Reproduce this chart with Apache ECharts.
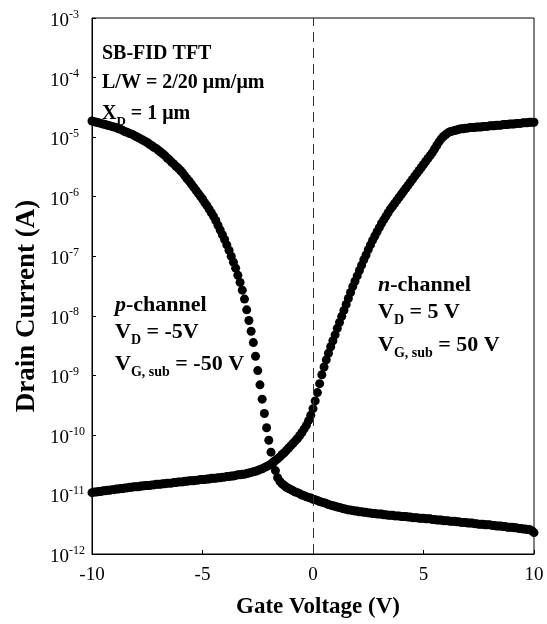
<!DOCTYPE html>
<html>
<head>
<meta charset="utf-8">
<title>SB-FID TFT transfer curves</title>
<script src="https://cdn.jsdelivr.net/npm/echarts@6.0.0/dist/echarts.min.js"></script>
<style>
  html, body { margin: 0; padding: 0; background: #fff; }
  #transferChart { width: 547px; height: 624px; }
</style>
</head>
<body>
<div id="transferChart"></div>
<script>
// gate voltage sweep (V)
var gateVoltage = [
  -10.0, -9.9, -9.8, -9.7, -9.6, -9.5, -9.4, -9.3, -9.2, -9.1,
  -9.0, -8.9, -8.8, -8.7, -8.6, -8.5, -8.4, -8.3, -8.2, -8.1,
  -8.0, -7.9, -7.8, -7.7, -7.6, -7.5, -7.4, -7.3, -7.2, -7.1,
  -7.0, -6.9, -6.8, -6.7, -6.6, -6.5, -6.4, -6.3, -6.2, -6.1,
  -6.0, -5.9, -5.8, -5.7, -5.6, -5.5, -5.4, -5.3, -5.2, -5.1,
  -5.0, -4.9, -4.8, -4.7, -4.6, -4.5, -4.4, -4.3, -4.2, -4.1,
  -4.0, -3.9, -3.8, -3.7, -3.6, -3.5, -3.4, -3.3, -3.2, -3.1,
  -3.0, -2.9, -2.8, -2.7, -2.6, -2.5, -2.4, -2.3, -2.2, -2.1,
  -2.0, -1.9, -1.8, -1.7, -1.6, -1.5, -1.4, -1.3, -1.2, -1.1,
  -1.0, -0.9, -0.8, -0.7, -0.6, -0.5, -0.4, -0.3, -0.2, -0.1,
  0.0, 0.1, 0.2, 0.3, 0.4, 0.5, 0.6, 0.7, 0.8, 0.9,
  1.0, 1.1, 1.2, 1.3, 1.4, 1.5, 1.6, 1.7, 1.8, 1.9,
  2.0, 2.1, 2.2, 2.3, 2.4, 2.5, 2.6, 2.7, 2.8, 2.9,
  3.0, 3.1, 3.2, 3.3, 3.4, 3.5, 3.6, 3.7, 3.8, 3.9,
  4.0, 4.1, 4.2, 4.3, 4.4, 4.5, 4.6, 4.7, 4.8, 4.9,
  5.0, 5.1, 5.2, 5.3, 5.4, 5.5, 5.6, 5.7, 5.8, 5.9,
  6.0, 6.1, 6.2, 6.3, 6.4, 6.5, 6.6, 6.7, 6.8, 6.9,
  7.0, 7.1, 7.2, 7.3, 7.4, 7.5, 7.6, 7.7, 7.8, 7.9,
  8.0, 8.1, 8.2, 8.3, 8.4, 8.5, 8.6, 8.7, 8.8, 8.9,
  9.0, 9.1, 9.2, 9.3, 9.4, 9.5, 9.6, 9.7, 9.8, 9.9,
  10.0
]

// log10 of drain current (A), p-channel, VD = -5 V
var pChannelLogI = [
  -4.73, -4.74, -4.75, -4.76, -4.77, -4.78, -4.79, -4.80, -4.81, -4.82,
  -4.83, -4.84, -4.86, -4.87, -4.89, -4.91, -4.92, -4.94, -4.95, -4.97,
  -4.99, -5.01, -5.03, -5.05, -5.07, -5.09, -5.12, -5.14, -5.17, -5.19,
  -5.22, -5.25, -5.28, -5.31, -5.35, -5.38, -5.42, -5.45, -5.49, -5.52,
  -5.56, -5.60, -5.65, -5.70, -5.74, -5.79, -5.84, -5.89, -5.94, -5.99,
  -6.04, -6.10, -6.15, -6.21, -6.27, -6.33, -6.40, -6.48, -6.56, -6.64,
  -6.72, -6.81, -6.90, -7.00, -7.10, -7.20, -7.32, -7.44, -7.57, -7.72,
  -7.90, -8.08, -8.26, -8.45, -8.68, -8.92, -9.16, -9.40, -9.64, -9.88,
  -10.09, -10.29, -10.46, -10.60, -10.72, -10.78, -10.82, -10.85, -10.88, -10.90,
  -10.92, -10.94, -10.96, -10.97, -10.99, -11.01, -11.02, -11.04, -11.05, -11.06,
  -11.08, -11.09, -11.10, -11.12, -11.13, -11.14, -11.15, -11.17, -11.18, -11.19,
  -11.20, -11.21, -11.22, -11.23, -11.24, -11.25, -11.26, -11.26, -11.27, -11.28,
  -11.28, -11.29, -11.29, -11.30, -11.30, -11.31, -11.31, -11.32, -11.32, -11.33,
  -11.33, -11.33, -11.34, -11.34, -11.35, -11.35, -11.35, -11.36, -11.36, -11.36,
  -11.37, -11.37, -11.37, -11.38, -11.38, -11.39, -11.39, -11.39, -11.40, -11.40,
  -11.40, -11.41, -11.41, -11.41, -11.42, -11.42, -11.43, -11.43, -11.43, -11.44,
  -11.44, -11.44, -11.45, -11.45, -11.45, -11.46, -11.46, -11.47, -11.47, -11.47,
  -11.48, -11.48, -11.48, -11.49, -11.49, -11.50, -11.50, -11.50, -11.51, -11.51,
  -11.51, -11.52, -11.52, -11.53, -11.53, -11.53, -11.54, -11.54, -11.55, -11.55,
  -11.55, -11.56, -11.56, -11.57, -11.57, -11.58, -11.58, -11.59, -11.59, -11.61,
  -11.64
]

// log10 of drain current (A), n-channel, VD = 5 V
var nChannelLogI = [
  -10.97, -10.96, -10.96, -10.95, -10.95, -10.94, -10.94, -10.93, -10.93, -10.92,
  -10.92, -10.91, -10.91, -10.90, -10.90, -10.89, -10.89, -10.88, -10.88, -10.87,
  -10.87, -10.87, -10.86, -10.86, -10.85, -10.85, -10.85, -10.84, -10.84, -10.83,
  -10.83, -10.83, -10.82, -10.82, -10.81, -10.81, -10.81, -10.80, -10.80, -10.79,
  -10.79, -10.79, -10.78, -10.78, -10.77, -10.77, -10.77, -10.76, -10.76, -10.75,
  -10.75, -10.75, -10.74, -10.74, -10.73, -10.73, -10.73, -10.72, -10.72, -10.71,
  -10.71, -10.70, -10.70, -10.69, -10.69, -10.68, -10.67, -10.67, -10.66, -10.66,
  -10.65, -10.64, -10.63, -10.62, -10.61, -10.60, -10.58, -10.57, -10.55, -10.53,
  -10.51, -10.49, -10.46, -10.43, -10.40, -10.37, -10.33, -10.30, -10.26, -10.22,
  -10.18, -10.14, -10.10, -10.06, -10.01, -9.96, -9.90, -9.84, -9.76, -9.67,
  -9.56, -9.43, -9.29, -9.14, -8.99, -8.86, -8.74, -8.63, -8.52, -8.42,
  -8.32, -8.21, -8.11, -8.01, -7.91, -7.81, -7.71, -7.61, -7.51, -7.42,
  -7.33, -7.24, -7.15, -7.06, -6.98, -6.89, -6.81, -6.73, -6.66, -6.59,
  -6.52, -6.45, -6.39, -6.33, -6.27, -6.21, -6.16, -6.11, -6.06, -6.01,
  -5.96, -5.91, -5.86, -5.81, -5.76, -5.71, -5.66, -5.61, -5.56, -5.51,
  -5.46, -5.41, -5.36, -5.31, -5.26, -5.20, -5.14, -5.08, -5.03, -4.99,
  -4.96, -4.93, -4.91, -4.90, -4.89, -4.88, -4.87, -4.86, -4.86, -4.85,
  -4.85, -4.84, -4.84, -4.84, -4.83, -4.83, -4.83, -4.82, -4.82, -4.82,
  -4.81, -4.81, -4.81, -4.80, -4.80, -4.80, -4.79, -4.79, -4.79, -4.78,
  -4.78, -4.78, -4.77, -4.77, -4.77, -4.76, -4.76, -4.76, -4.75, -4.75,
  -4.75
]

var xTicks = [-10, -5, 0, 5, 10]
var yDecadeMin = -12
var yDecadeMax = -3

var serif = 'Liberation Serif'

function toPoints(logs) {
  return gateVoltage.map(function (v, i) {
    return [v, Math.pow(10, logs[i])]
  })
}

// text styles for the annotation blocks
var noteRich = {
  b: { fontFamily: serif, fontWeight: 'bold', fontSize: 22, lineHeight: 22, verticalAlign: 'top' },
  i: { fontFamily: serif, fontWeight: 'bold', fontStyle: 'italic', fontSize: 22, lineHeight: 22, verticalAlign: 'top' },
  sub: { fontFamily: serif, fontWeight: 'bold', fontSize: 14, lineHeight: 14, verticalAlign: 'top', padding: [12, 0, 0, 0] }
}
var headRich = {
  b: { fontFamily: serif, fontWeight: 'bold', fontSize: 20, lineHeight: 20, verticalAlign: 'top' },
  sub: { fontFamily: serif, fontWeight: 'bold', fontSize: 13, lineHeight: 13, verticalAlign: 'top', padding: [11, 0, 0, 0] }
}

function note(x, y, text, rich) {
  return {
    type: 'text',
    left: x,
    top: y,
    silent: true,
    style: { text: text, fill: '#000', rich: rich }
  }
}

var chart = echarts.init(document.getElementById('transferChart'))

var option = {
  animation: false,
  backgroundColor: '#fff',
  grid: {
    left: 92,
    right: 13,
    top: 18,
    bottom: 70,
    show: true,
    borderColor: '#000',
    borderWidth: 1,
    backgroundColor: 'transparent'
  },
  xAxis: {
    type: 'value',
    min: xTicks[0],
    max: xTicks[xTicks.length - 1],
    interval: 5,
    axisLine: { onZero: false, lineStyle: { color: '#000', width: 1 } },
    axisTick: { inside: true, length: 4, lineStyle: { color: '#000' } },
    splitLine: { show: false },
    axisLabel: { color: '#000', fontFamily: serif, fontSize: 19, margin: 12 }
  },
  yAxis: {
    type: 'log',
    logBase: 10,
    min: Math.pow(10, yDecadeMin),
    max: Math.pow(10, yDecadeMax),
    splitNumber: yDecadeMax - yDecadeMin,
    axisLine: { onZero: false, lineStyle: { color: '#000', width: 1 } },
    axisTick: { inside: true, length: 4, lineStyle: { color: '#000' } },
    splitLine: { show: false },
    minorTick: { show: false },
    axisLabel: {
      color: '#000',
      fontFamily: serif,
      fontSize: 19,
      align: 'left',
      margin: 42,
      formatter: function (v) {
        return '{base|10}{sup|' + Math.round(Math.log10(v)) + '}'
      },
      rich: {
        base: { fontFamily: serif, fontSize: 19, lineHeight: 19, verticalAlign: 'top', padding: [3, 0, 0, 0] },
        sup: { fontFamily: serif, fontSize: 12, lineHeight: 12, verticalAlign: 'top' }
      }
    }
  },
  series: [
    {
      name: 'p-channel',
      type: 'scatter',
      symbol: 'circle',
      symbolSize: 9,
      itemStyle: { color: '#000', opacity: 1 },
      data: toPoints(pChannelLogI),
      markLine: {
        silent: true,
        symbol: 'none',
        label: { show: false },
        lineStyle: { color: '#333', width: 1, type: [10, 6] },
        data: [{ xAxis: 0 }]
      }
    },
    {
      name: 'n-channel',
      type: 'scatter',
      symbol: 'circle',
      symbolSize: 9,
      itemStyle: { color: '#000', opacity: 1 },
      data: toPoints(nChannelLogI)
    }
  ],
  graphic: [
    note(102, 44, '{b|SB-FID TFT}', headRich),
    note(102, 73, '{b|L/W = 2/20 μm/μm}', headRich),
    note(102, 104, '{b|X}{sub|D}{b| = 1 μm}', headRich),

    note(115, 294, '{i|p}{b|-channel}', noteRich),
    note(115, 321, '{b|V}{sub|D}{b| = -5V}', noteRich),
    note(115, 353, '{b|V}{sub|G, sub}{b| = -50 V}', noteRich),

    note(378, 274, '{i|n}{b|-channel}', noteRich),
    note(378, 301, '{b|V}{sub|D}{b| = 5 V}', noteRich),
    note(378, 334, '{b|V}{sub|G, sub}{b| = 50 V}', noteRich),

    {
      type: 'text',
      silent: true,
      x: 318,
      y: 607,
      style: {
        text: 'Gate Voltage (V)',
        fill: '#000',
        font: 'bold 23px "Liberation Serif"',
        align: 'center',
        verticalAlign: 'middle'
      }
    },
    {
      type: 'text',
      silent: true,
      x: 27,
      y: 306,
      rotation: Math.PI / 2,
      style: {
        text: 'Drain Current (A)',
        fill: '#000',
        font: 'bold 27px "Liberation Serif"',
        align: 'center',
        verticalAlign: 'middle'
      }
    }
  ]
}

chart.setOption(option)
</script>
</body>
</html>
